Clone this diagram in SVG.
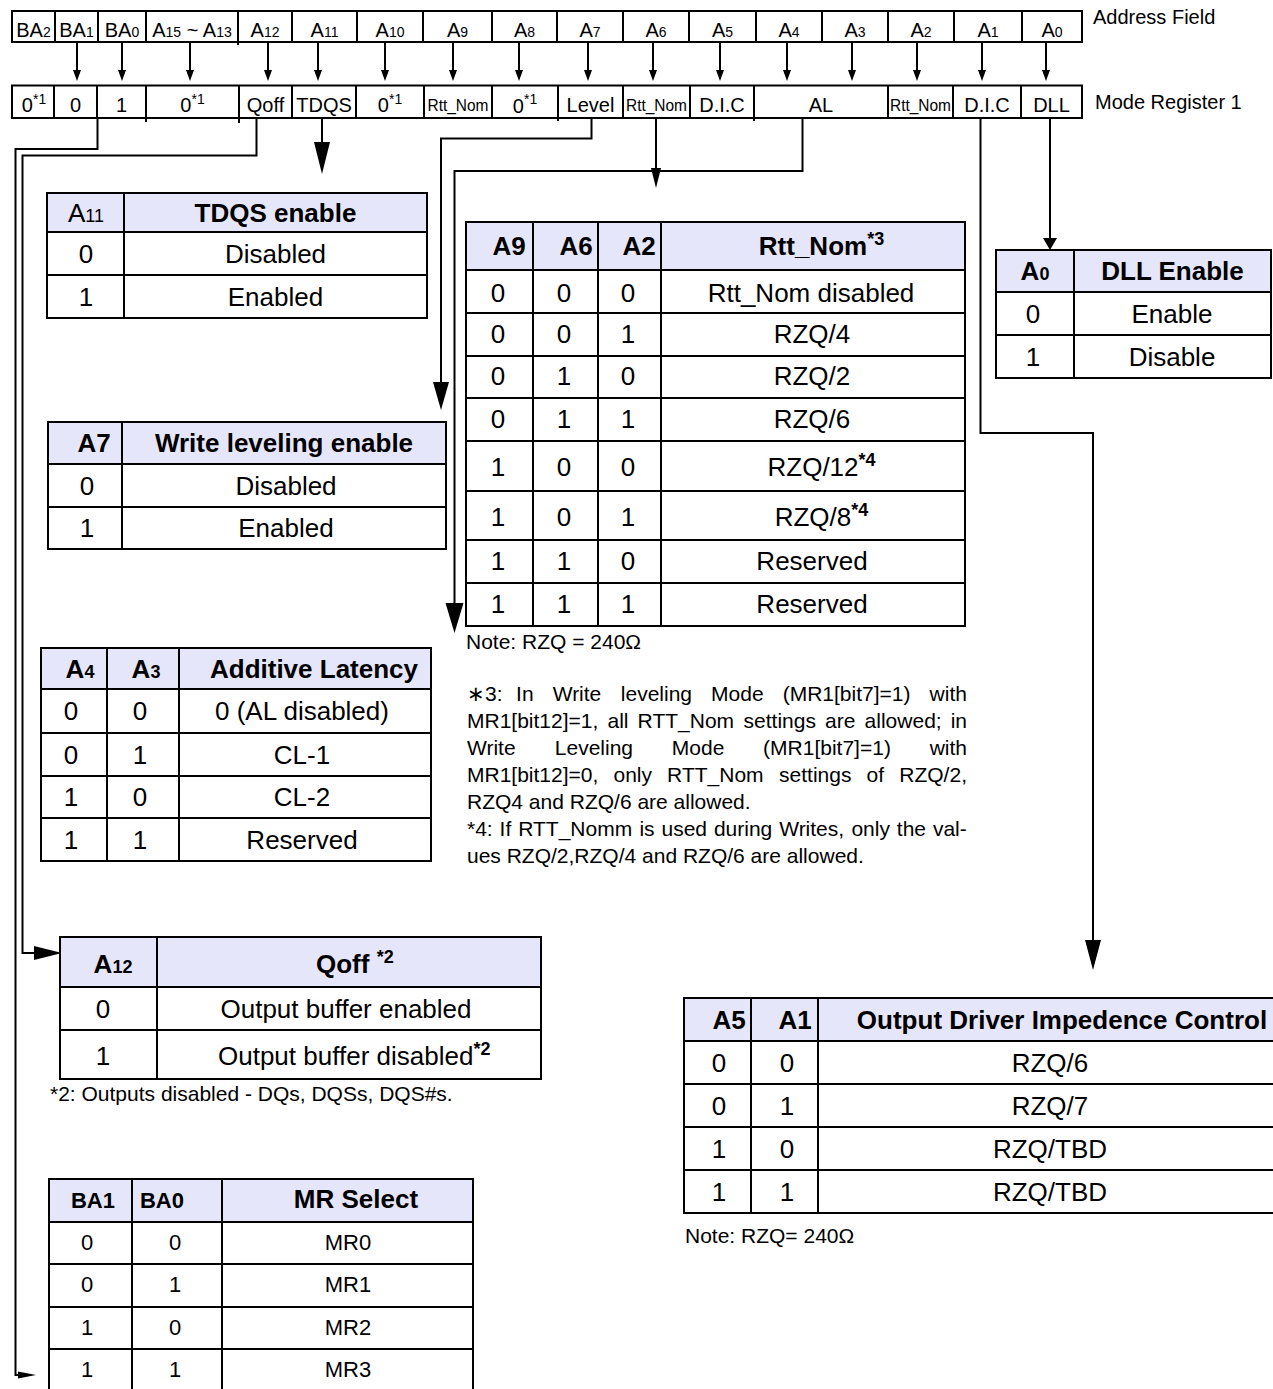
<svg xmlns="http://www.w3.org/2000/svg" width="1273" height="1389" viewBox="0 0 1273 1389">
<style>
text{font-family:"Liberation Sans",Arial,Helvetica,sans-serif;fill:#000}
.ln{fill:none;stroke:#000;stroke-width:2}
.cn{fill:none;stroke:#000;stroke-width:2}
.ar{marker-end:url(#sa)}
.hd{fill:#E6E6FA;stroke:none}
.ah{fill:#000;stroke:none}
.c{text-anchor:middle}
.r{font-size:20px}
.t{font-size:26px}
.m{font-size:22px}
.b{font-weight:bold}
.n{font-size:21px}
.s{font-size:14px}
.u{font-size:18px}
.rn{font-size:17px}
</style>
<defs>
<marker id="sa" viewBox="0 0 11 8" refX="8" refY="4" markerWidth="11" markerHeight="8" markerUnits="userSpaceOnUse" orient="auto"><path d="M0 0L11 4L0 8z" fill="#000"/></marker>
</defs>
<rect width="1273" height="1389" fill="#fff"/>

<g id="address-field">
<rect class="ln" x="12" y="11" width="1070" height="31"/>
<path class="ln" d="M55 11V42M98 11V42M146 11V42M238 11V45M292 11V42M357 11V42M423 11V42M492 11V42M557 11V42M623 11V42M689 11V42M756 11V42M822 11V42M888 11V42M954 11V42M1022 11V42"/>
<text class="r c" x="33.5" y="36.5">BA<tspan class="s">2</tspan></text>
<text class="r c" x="76.5" y="36.5">BA<tspan class="s">1</tspan></text>
<text class="r c" x="122" y="36.5">BA<tspan class="s">0</tspan></text>
<text class="r c" x="192" y="36.5">A<tspan class="s">15</tspan> ~ A<tspan class="s">13</tspan></text>
<text class="r c" x="265" y="36.5">A<tspan class="s">12</tspan></text>
<text class="r c" x="324.5" y="36.5">A<tspan class="s">11</tspan></text>
<text class="r c" x="390" y="36.5">A<tspan class="s">10</tspan></text>
<text class="r c" x="457.5" y="36.5">A<tspan class="s">9</tspan></text>
<text class="r c" x="524.5" y="36.5">A<tspan class="s">8</tspan></text>
<text class="r c" x="590" y="36.5">A<tspan class="s">7</tspan></text>
<text class="r c" x="656" y="36.5">A<tspan class="s">6</tspan></text>
<text class="r c" x="722.5" y="36.5">A<tspan class="s">5</tspan></text>
<text class="r c" x="789" y="36.5">A<tspan class="s">4</tspan></text>
<text class="r c" x="855" y="36.5">A<tspan class="s">3</tspan></text>
<text class="r c" x="921" y="36.5">A<tspan class="s">2</tspan></text>
<text class="r c" x="988" y="36.5">A<tspan class="s">1</tspan></text>
<text class="r c" x="1052" y="36.5">A<tspan class="s">0</tspan></text>
<text class="r" x="1093" y="24">Address Field</text>
</g>

<g id="mode-register-1">
<rect class="ln" x="12" y="85.5" width="1070" height="32.5"/>
<path class="ln" d="M54 85.5V118M97 85.5V118M146 85.5V122M239 85.5V123M292 85.5V118M356 85.5V118M424 85.5V118M492 85.5V118M558 85.5V121M623 85.5V118M690 85.5V118M754 85.5V121M888 85.5V118M953 85.5V118M1021 85.5V118"/>
<text class="r c" x="34" y="111.5">0<tspan class="s" dy="-8">*1</tspan></text>
<text class="r c" x="75.5" y="111.5">0</text>
<text class="r c" x="121.5" y="111.5">1</text>
<text class="r c" x="192.5" y="111.5">0<tspan class="s" dy="-8">*1</tspan></text>
<text class="r c" x="265.5" y="111.5">Qoff</text>
<text class="r c" x="324" y="111.5">TDQS</text>
<text class="r c" x="390" y="111.5">0<tspan class="s" dy="-8">*1</tspan></text>
<text class="rn c" x="458" y="111" textLength="61" lengthAdjust="spacingAndGlyphs">Rtt_Nom</text>
<text class="r c" x="525" y="113">0<tspan class="s" dy="-9">*1</tspan></text>
<text class="r c" x="590.5" y="111.5">Level</text>
<text class="rn c" x="656.5" y="111" textLength="61" lengthAdjust="spacingAndGlyphs">Rtt_Nom</text>
<text class="r c" x="722" y="111.5">D.I.C</text>
<text class="r c" x="821" y="111.5">AL</text>
<text class="rn c" x="920.5" y="111" textLength="61" lengthAdjust="spacingAndGlyphs">Rtt_Nom</text>
<text class="r c" x="987" y="111.5">D.I.C</text>
<text class="r c" x="1051.5" y="111.5">DLL</text>
<text class="r" x="1095" y="109">Mode Register 1</text>
</g>

<g id="connectors">
<line class="cn ar" x1="77" y1="42" x2="77" y2="78"/>
<line class="cn ar" x1="122" y1="42" x2="122" y2="78"/>
<line class="cn ar" x1="190" y1="42" x2="190" y2="78"/>
<line class="cn ar" x1="268" y1="42" x2="268" y2="78"/>
<line class="cn ar" x1="318" y1="42" x2="318" y2="78"/>
<line class="cn ar" x1="385" y1="42" x2="385" y2="78"/>
<line class="cn ar" x1="453" y1="42" x2="453" y2="78"/>
<line class="cn ar" x1="519" y1="42" x2="519" y2="78"/>
<line class="cn ar" x1="588" y1="42" x2="588" y2="78"/>
<line class="cn ar" x1="653" y1="42" x2="653" y2="78"/>
<line class="cn ar" x1="720" y1="42" x2="720" y2="78"/>
<line class="cn ar" x1="787" y1="42" x2="787" y2="78"/>
<line class="cn ar" x1="852" y1="42" x2="852" y2="78"/>
<line class="cn ar" x1="917" y1="42" x2="917" y2="78"/>
<line class="cn ar" x1="982" y1="42" x2="982" y2="78"/>
<line class="cn ar" x1="1046" y1="42" x2="1046" y2="78"/>

<path class="cn" d="M97.5 118V149H15.5V1375H20"/>
<polygon class="ah" points="18,1371.5 36,1375 18,1378.5"/>
<path class="cn" d="M256.5 118V155.5H22.5V953H36"/>
<polygon class="ah" points="34,946 62,953 34,960"/>
<path class="cn" d="M322 118V145"/>
<polygon class="ah" points="314,142 330,142 322,174"/>
<path class="cn" d="M591.5 118V138.5H441V384"/>
<polygon class="ah" points="433,382 449,382 441,410"/>
<path class="cn" d="M656 118V170"/>
<polygon class="ah" points="651,168 661,168 656,188"/>
<path class="cn" d="M802.5 118V171H454.5V605"/>
<polygon class="ah" points="445.5,603 463.5,603 454.5,633"/>
<path class="cn" d="M980.5 118V433H1093V942"/>
<polygon class="ah" points="1085,940 1101,940 1093,970"/>
<path class="cn" d="M1050 118V240"/>
<polygon class="ah" points="1043,238 1057,238 1050,250"/>
</g>

<g id="tdqs-enable">
<rect class="hd" x="47" y="193" width="380" height="39"/>
<rect class="ln" x="47" y="193" width="380" height="125"/>
<path class="ln" d="M47 232H427M47 275H427M124 193V318"/>
<text class="t c" x="86" y="222">A<tspan class="u">11</tspan></text>
<text class="t c b" x="275.5" y="222">TDQS enable</text>
<text class="t c" x="86" y="263">0</text>
<text class="t c" x="275.5" y="263">Disabled</text>
<text class="t c" x="86" y="306">1</text>
<text class="t c" x="275.5" y="306">Enabled</text>
</g>

<g id="write-leveling">
<rect class="hd" x="48" y="422" width="398" height="42"/>
<rect class="ln" x="48" y="422" width="398" height="127"/>
<path class="ln" d="M48 464H446M48 507H446M122 422V549"/>
<text class="t c b" x="94" y="452">A7</text>
<text class="t c b" x="284" y="452">Write leveling enable</text>
<text class="t c" x="87" y="494.5">0</text>
<text class="t c" x="286" y="494.5">Disabled</text>
<text class="t c" x="87" y="537">1</text>
<text class="t c" x="286" y="537">Enabled</text>
</g>

<g id="additive-latency">
<rect class="hd" x="41" y="648" width="390" height="41"/>
<rect class="ln" x="41" y="648" width="390" height="213"/>
<path class="ln" d="M41 689H431M41 733H431M41 776H431M41 818H431M107 648V861M179 648V861"/>
<text class="t c b" x="80" y="678">A<tspan class="u">4</tspan></text>
<text class="t c b" x="146" y="678">A<tspan class="u">3</tspan></text>
<text class="t c b" x="314" y="678">Additive Latency</text>
<text class="t c" x="71" y="720">0</text><text class="t c" x="140" y="720">0</text><text class="t c" x="302" y="720">0 (AL disabled)</text>
<text class="t c" x="71" y="763.5">0</text><text class="t c" x="140" y="763.5">1</text><text class="t c" x="302" y="763.5">CL-1</text>
<text class="t c" x="71" y="806">1</text><text class="t c" x="140" y="806">0</text><text class="t c" x="302" y="806">CL-2</text>
<text class="t c" x="71" y="848.5">1</text><text class="t c" x="140" y="848.5">1</text><text class="t c" x="302" y="848.5">Reserved</text>
</g>

<g id="rtt-nom">
<rect class="hd" x="466" y="222" width="499" height="48"/>
<rect class="ln" x="466" y="222" width="499" height="404"/>
<path class="ln" d="M466 270H965M466 313H965M466 356H965M466 398H965M466 441H965M466 491H965M466 540H965M466 583H965M533 222V626M598 222V626M661 222V626"/>
<text class="t c b" x="509" y="255">A9</text>
<text class="t c b" x="576" y="255">A6</text>
<text class="t c b" x="639" y="255">A2</text>
<text class="t b" x="758.8" y="255">Rtt_Nom<tspan class="u" dy="-10">*3</tspan></text>
<text class="t c" x="498" y="302">0</text><text class="t c" x="564" y="302">0</text><text class="t c" x="628" y="302">0</text><text class="t c" x="811" y="302">Rtt_Nom disabled</text>
<text class="t c" x="498" y="343">0</text><text class="t c" x="564" y="343">0</text><text class="t c" x="628" y="343">1</text><text class="t c" x="812" y="343">RZQ/4</text>
<text class="t c" x="498" y="385">0</text><text class="t c" x="564" y="385">1</text><text class="t c" x="628" y="385">0</text><text class="t c" x="812" y="385">RZQ/2</text>
<text class="t c" x="498" y="428">0</text><text class="t c" x="564" y="428">1</text><text class="t c" x="628" y="428">1</text><text class="t c" x="812" y="428">RZQ/6</text>
<text class="t c" x="498" y="476">1</text><text class="t c" x="564" y="476">0</text><text class="t c" x="628" y="476">0</text><text class="t" x="767.5" y="476">RZQ/12<tspan class="u b" dy="-10">*4</tspan></text>
<text class="t c" x="498" y="526">1</text><text class="t c" x="564" y="526">0</text><text class="t c" x="628" y="526">1</text><text class="t" x="774.7" y="526">RZQ/8<tspan class="u b" dy="-10">*4</tspan></text>
<text class="t c" x="498" y="570">1</text><text class="t c" x="564" y="570">1</text><text class="t c" x="628" y="570">0</text><text class="t c" x="812" y="570">Reserved</text>
<text class="t c" x="498" y="613">1</text><text class="t c" x="564" y="613">1</text><text class="t c" x="628" y="613">1</text><text class="t c" x="812" y="613">Reserved</text>
</g>

<g id="rtt-notes">
<text class="n" x="466" y="649">Note: RZQ = 240Ω</text>
<text class="n" y="701"><tspan x="467">∗3:</tspan> <tspan x="516.1">In</tspan> <tspan x="552.7">Write</tspan> <tspan x="620.8">leveling</tspan> <tspan x="711.1">Mode</tspan> <tspan x="782.7">(MR1[bit7]=1)</tspan> <tspan x="929.6">with</tspan></text>
<text class="n" y="728"><tspan x="467">MR1[bit12]=1,</tspan> <tspan x="607.5">all</tspan> <tspan x="637.6">RTT_Nom</tspan> <tspan x="743.6">settings</tspan> <tspan x="825.1">are</tspan> <tspan x="864.6">allowed;</tspan> <tspan x="950.7">in</tspan></text>
<text class="n" y="755"><tspan x="467">Write</tspan> <tspan x="554.8">Leveling</tspan> <tspan x="671.8">Mode</tspan> <tspan x="763.1">(MR1[bit7]=1)</tspan> <tspan x="929.7">with</tspan></text>
<text class="n" y="782"><tspan x="467">MR1[bit12]=0,</tspan> <tspan x="613.5">only</tspan> <tspan x="667.1">RTT_Nom</tspan> <tspan x="779.1">settings</tspan> <tspan x="866.6">of</tspan> <tspan x="899.3">RZQ/2,</tspan></text>
<text class="n" x="467" y="809">RZQ4 and RZQ/6 are allowed.</text>
<text class="n" y="836"><tspan x="467">*4:</tspan> <tspan x="499.6">If</tspan> <tspan x="518.2">RTT_Nomm</tspan> <tspan x="639.4">is</tspan> <tspan x="661.5">used</tspan> <tspan x="713.9">during</tspan> <tspan x="779.2">Writes,</tspan> <tspan x="851.4">only</tspan> <tspan x="896.8">the</tspan> <tspan x="932.9">val-</tspan></text>
<text class="n" x="467" y="863">ues RZQ/2,RZQ/4 and RZQ/6 are allowed.</text>
</g>

<g id="dll-enable">
<rect class="hd" x="996" y="250" width="275" height="42"/>
<rect class="ln" x="996" y="250" width="275" height="128"/>
<path class="ln" d="M996 292H1271M996 335H1271M1074 250V378"/>
<text class="t c b" x="1035" y="280">A<tspan class="u">0</tspan></text>
<text class="t c b" x="1172.5" y="280">DLL Enable</text>
<text class="t c" x="1033" y="323">0</text>
<text class="t c" x="1172" y="323">Enable</text>
<text class="t c" x="1033" y="366">1</text>
<text class="t c" x="1172" y="366">Disable</text>
</g>

<g id="qoff">
<rect class="hd" x="60" y="937" width="481" height="50"/>
<rect class="ln" x="60" y="937" width="481" height="142"/>
<path class="ln" d="M60 987H541M60 1030H541M157 937V1079"/>
<text class="t c b" x="113" y="973">A<tspan class="u">12</tspan></text>
<text class="t b" x="316" y="973">Qoff <tspan class="u" dy="-10">*2</tspan></text>
<text class="t c" x="103" y="1018">0</text>
<text class="t c" x="346" y="1018">Output buffer enabled</text>
<text class="t c" x="103" y="1065">1</text>
<text class="t" x="218" y="1065">Output buffer disabled<tspan class="u b" dy="-10">*2</tspan></text>
<text class="n" x="50" y="1101">*2: Outputs disabled - DQs, DQSs, DQS#s.</text>
</g>

<g id="output-driver-impedance">
<rect class="hd" x="684" y="998" width="600" height="43"/>
<rect class="ln" x="684" y="998" width="600" height="215"/>
<path class="ln" d="M684 1041H1284M684 1084H1284M684 1127H1284M684 1170H1284M751 998V1213M818 998V1213"/>
<text class="t c b" x="729" y="1029">A5</text>
<text class="t c b" x="795" y="1029">A1</text>
<text class="t c b" x="1062" y="1029">Output Driver Impedence Control</text>
<text class="t c" x="719" y="1072">0</text><text class="t c" x="787" y="1072">0</text><text class="t c" x="1050" y="1072">RZQ/6</text>
<text class="t c" x="719" y="1115">0</text><text class="t c" x="787" y="1115">1</text><text class="t c" x="1050" y="1115">RZQ/7</text>
<text class="t c" x="719" y="1158">1</text><text class="t c" x="787" y="1158">0</text><text class="t c" x="1050" y="1158">RZQ/TBD</text>
<text class="t c" x="719" y="1201">1</text><text class="t c" x="787" y="1201">1</text><text class="t c" x="1050" y="1201">RZQ/TBD</text>
<text class="n" x="685" y="1243">Note: RZQ= 240Ω</text>
</g>

<g id="mr-select">
<rect class="hd" x="49" y="1179" width="424" height="43"/>
<rect class="ln" x="49" y="1179" width="424" height="215"/>
<path class="ln" d="M49 1222H473M49 1264H473M49 1307H473M49 1349H473M132 1179V1394M222 1179V1394"/>
<text class="m c b" x="93" y="1208">BA1</text>
<text class="m c b" x="162" y="1208">BA0</text>
<text class="t c b" x="356" y="1208">MR Select</text>
<text class="m c" x="87" y="1250">0</text><text class="m c" x="175" y="1250">0</text><text class="m c" x="348" y="1250">MR0</text>
<text class="m c" x="87" y="1292">0</text><text class="m c" x="175" y="1292">1</text><text class="m c" x="348" y="1292">MR1</text>
<text class="m c" x="87" y="1335">1</text><text class="m c" x="175" y="1335">0</text><text class="m c" x="348" y="1335">MR2</text>
<text class="m c" x="87" y="1377">1</text><text class="m c" x="175" y="1377">1</text><text class="m c" x="348" y="1377">MR3</text>
</g>
</svg>
